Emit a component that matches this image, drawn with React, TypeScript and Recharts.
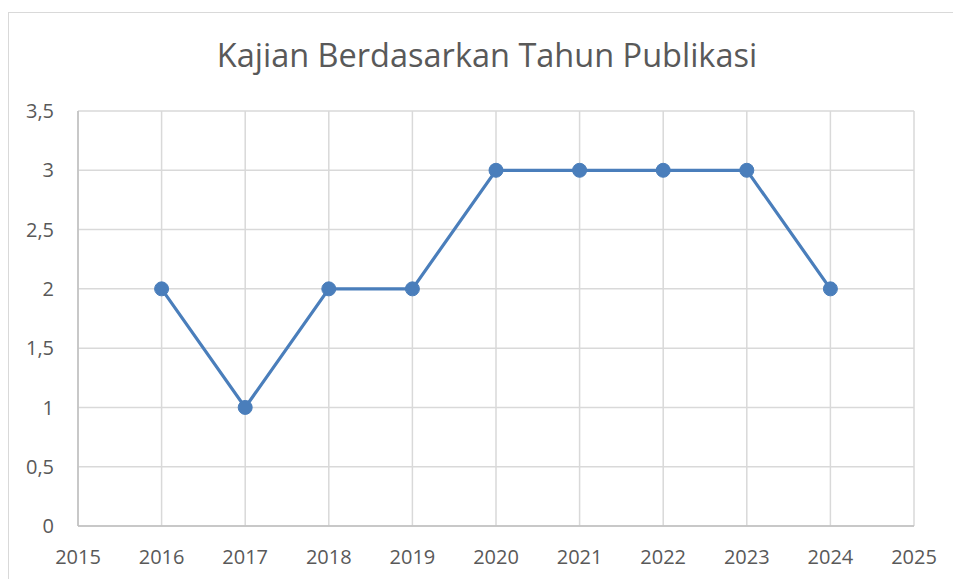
import React from 'react';
import { LineChart, Line, XAxis, YAxis, CartesianGrid } from 'recharts';

const years = [2016, 2017, 2018, 2019, 2020, 2021, 2022, 2023, 2024];
const counts = [2, 1, 2, 2, 3, 3, 3, 3, 2];
const xTicks = [2015, 2016, 2017, 2018, 2019, 2020, 2021, 2022, 2023, 2024, 2025];
const yTicks = [0, 0.5, 1, 1.5, 2, 2.5, 3, 3.5];
const title = 'Kajian Berdasarkan Tahun Publikasi';

const data = years.map((y, i) => ({ year: y, value: counts[i] }));

const FONT = '"Open Sans", "Noto Sans", sans-serif';

export default function App() {
  return (
    <div style={{ position: 'absolute', left: 0, top: 0, width: 953, height: 579, overflow: 'hidden', background: '#fff' }}>
      <div style={{ position: 'absolute', left: 8, top: 12, width: 1000, height: 700, border: '1px solid #d9d9d9', boxSizing: 'border-box' }} />
      <div style={{ position: 'absolute', left: 0, width: 974, top: 33, textAlign: 'center', fontFamily: FONT, fontSize: 32.5, color: '#595959', whiteSpace: 'nowrap', lineHeight: '44px' }}>
        {title}
      </div>
      <div style={{ position: 'absolute', left: 0, top: 0 }}>
        <LineChart width={953} height={579} data={data} margin={{ top: 111, right: 39, left: 0, bottom: 0 }}>
          <CartesianGrid stroke="#d9d9d9" strokeWidth={1.5} />
          <XAxis
            dataKey="year"
            type="number"
            domain={[2015, 2025]}
            ticks={xTicks}
            interval={0}
            height={53}
            tickSize={0}
            tickMargin={24}
            tickLine={false}
            axisLine={{ stroke: '#bfbfbf', strokeWidth: 1.5 }}
            tick={{ fill: '#595959', fontSize: 20, fontFamily: FONT }}
          />
          <YAxis
            type="number"
            domain={[0, 3.5]}
            ticks={yTicks}
            interval={0}
            width={78}
            tickSize={0}
            tickMargin={24}
            tickLine={false}
            axisLine={{ stroke: '#bfbfbf', strokeWidth: 1.5 }}
            tickFormatter={(v: number) => String(v).replace('.', ',')}
            tick={{ fill: '#595959', fontSize: 20, fontFamily: FONT }}
          />
          <Line
            dataKey="value"
            stroke="#4a7ebb"
            strokeWidth={3.2}
            dot={{ r: 7, fill: '#4a7ebb', stroke: '#4a7ebb', strokeWidth: 1 }}
            activeDot={false}
            isAnimationActive={false}
          />
        </LineChart>
      </div>
    </div>
  );
}
